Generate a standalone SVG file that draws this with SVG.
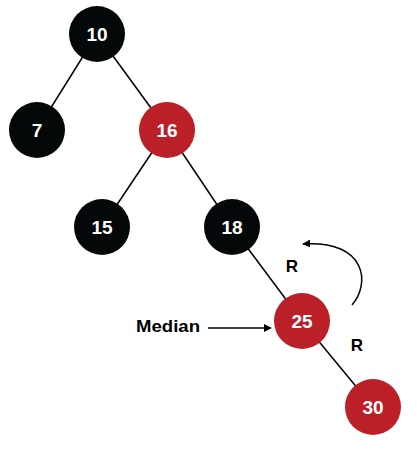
<svg xmlns="http://www.w3.org/2000/svg" width="417" height="450" viewBox="0 0 417 450">
<style>
.b{fill:#050808}
.r{fill:#bb1f27}
.t{fill:#fff;font-family:"Liberation Sans",Arial,sans-serif;font-weight:bold;font-size:19px;text-anchor:middle}
.l{fill:#000;font-family:"Liberation Sans",Arial,sans-serif;font-weight:bold;font-size:17px;text-anchor:middle}
.e{stroke:#000;stroke-width:1.5;fill:none}
</style>
<defs>
<marker id="ah" viewBox="0 0 10 10" refX="9" refY="5" markerWidth="8" markerHeight="8" orient="auto" markerUnits="userSpaceOnUse">
<path d="M0,0 L10,5 L0,10 Z" fill="#000"/>
</marker>
</defs>
<rect width="417" height="450" fill="#fff"/>
<g id="connectors">
<line class="e" x1="97" y1="34" x2="37" y2="130"/>
<line class="e" x1="97" y1="34" x2="167" y2="130"/>
<line class="e" x1="167" y1="130" x2="102" y2="227"/>
<line class="e" x1="167" y1="130" x2="232" y2="227"/>
<line class="e" x1="232" y1="227" x2="302" y2="321"/>
<line class="e" x1="302" y1="321" x2="373" y2="407"/>
<line class="e" x1="208" y1="328" x2="271" y2="328" stroke-width="1.2" marker-end="url(#ah)"/>
<path class="e" d="M352,305 C370,285 368,240 303,244" stroke-width="1.2" marker-end="url(#ah)"/>
</g>
<g id="n10"><circle class="b" cx="97" cy="34" r="28"/><text class="t" x="97" y="41">10</text></g>
<g id="n7"><circle class="b" cx="37" cy="130" r="28"/><text class="t" x="37" y="137">7</text></g>
<g id="n16"><circle class="r" cx="167" cy="130" r="28"/><text class="t" x="167" y="137">16</text></g>
<g id="n15"><circle class="b" cx="102" cy="227" r="28"/><text class="t" x="102" y="234">15</text></g>
<g id="n18"><circle class="b" cx="232" cy="227" r="28"/><text class="t" x="232" y="234">18</text></g>
<g id="n25"><circle class="r" cx="302" cy="321" r="28"/><text class="t" x="302" y="328">25</text></g>
<g id="n30"><circle class="r" cx="373" cy="407" r="28"/><text class="t" x="373" y="414">30</text></g>
<g id="labels">
<text class="l" x="168" y="332" textLength="64" lengthAdjust="spacingAndGlyphs">Median</text>
<text class="l" x="292" y="272">R</text>
<text class="l" x="357" y="351">R</text>
</g>
</svg>
